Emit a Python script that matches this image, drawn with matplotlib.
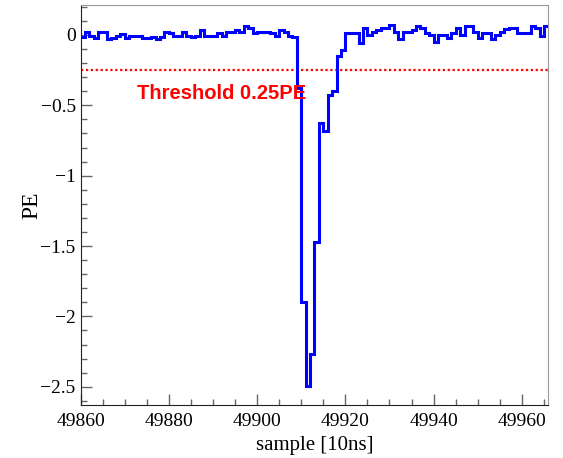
import matplotlib
matplotlib.use('Agg')
import matplotlib.pyplot as plt
import numpy as np
from matplotlib.ticker import MultipleLocator

# histogram: one bin per sample, starting at 49860
first_sample = 49860
pe = [
    -0.012, 0.019, -0.005, -0.024, 0.024, 0.024, -0.031, -0.019, -0.005, 0.007,
    -0.019, -0.005, -0.005, -0.005, -0.019, -0.019, -0.012, -0.031, -0.012, 0.024,
    0.012, -0.005, -0.005, 0.024, -0.005, -0.014, -0.005, 0.036, -0.005, -0.005,
    -0.005, 0.012, -0.005, 0.019, 0.019, 0.036, 0.019, 0.064, 0.052, 0.012,
    0.019, 0.024, 0.024, 0.017, -0.005, 0.036, 0.019, -0.005, -0.014, -0.380,
    -1.896, -2.498, -2.266, -1.470, -0.625, -0.680, -0.426, -0.395, -0.149, -0.107,
    0.012, 0.012, 0.012, -0.059, 0.047, 0.000, 0.024, 0.036, 0.052, 0.052,
    0.071, 0.024, -0.031, 0.024, 0.024, 0.036, 0.064, 0.047, 0.012, 0.000,
    -0.047, 0.000, 0.000, -0.024, 0.012, 0.047, 0.000, 0.064, 0.064, 0.024,
    -0.024, 0.012, 0.012, -0.031, 0.000, 0.024, 0.040, 0.047, 0.047, 0.012,
    0.012, 0.012, 0.064, 0.047, -0.007, 0.064,
]
threshold = -0.25
threshold_label = 'Threshold 0.25PE'
yticks = [0, -0.5, -1, -1.5, -2, -2.5]

edges = first_sample + np.arange(len(pe) + 1)

fig = plt.figure(figsize=(5.63, 4.58), dpi=100)
ax = fig.add_axes([0.143, 0.1157, 0.831, 0.8734])

ax.stairs(pe, edges, baseline=None, color='#0000ff', lw=2.2, zorder=3)
ax.axhline(threshold, color='#ff0000', lw=1.6, linestyle=(0, (1, 1.2)), zorder=2)
ax.text(49872.8, -0.455, threshold_label, color='#ff0000', fontsize=14.5,
        fontweight='bold', family='Liberation Sans', zorder=4)

ax.set_xlim(edges[0], edges[-1])

ax.xaxis.set_major_locator(MultipleLocator(20))
ax.xaxis.set_minor_locator(MultipleLocator(5))
ax.yaxis.set_minor_locator(MultipleLocator(0.1))
ax.ticklabel_format(useOffset=False)

ax.set_yticks(yticks)
ax.set_yticklabels([('%g' % v).replace('-', '\u2212') for v in yticks],
                   family='Liberation Serif')
ax.set_ylim(-2.63, 0.213)

ax.tick_params(which='both', direction='in', top=False, right=False,
               color='#666666', width=1)
ax.tick_params(which='major', length=8, labelsize=14)
ax.tick_params(axis='x', which='major', pad=6)
ax.tick_params(which='minor', length=4)
for lab in ax.get_xticklabels() + ax.get_yticklabels():
    lab.set_family('Liberation Serif')

for s in ['left', 'bottom']:
    ax.spines[s].set_color('#222222')
for s in ['top', 'right']:
    ax.spines[s].set_color('#999999')

ax.set_xlabel('sample [10ns]', family='Liberation Serif', fontsize=15, labelpad=4)
ax.set_ylabel('PE', family='Liberation Serif', fontsize=17)
ax.yaxis.set_label_coords(-0.082, 0.5)

fig.savefig('out.png', dpi=100)
